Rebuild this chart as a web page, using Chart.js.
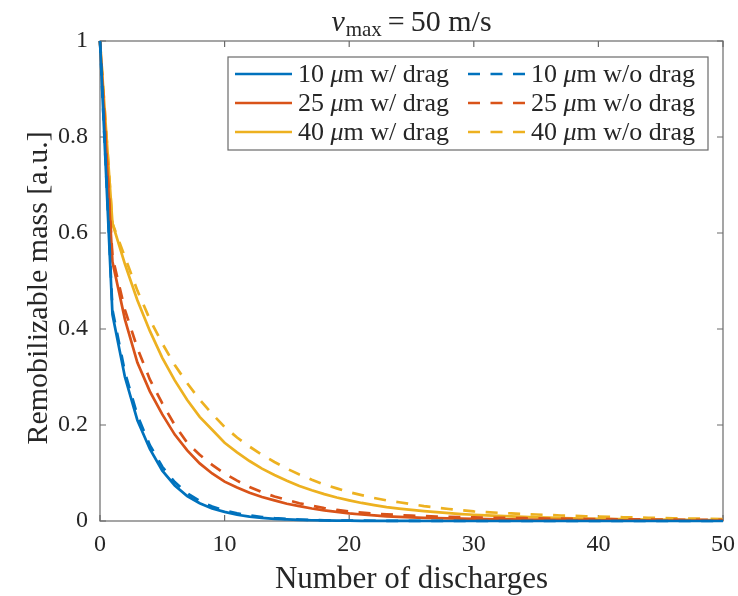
<!DOCTYPE html>
<html>
<head>
<meta charset="utf-8">
<script src="https://cdn.jsdelivr.net/npm/chart.js@4/dist/chart.umd.min.js"></script>
<style>
  html, body { margin: 0; padding: 0; background: #fff; }
  #wrap { width: 738px; height: 596px; }
</style>
</head>
<body>
<div id="wrap"><canvas id="massChart" width="738" height="596"></canvas></div>
<script>
// number of discharges (x) and remaining remobilizable mass for each case
const discharges = [0, 1, 2, 3, 4, 5, 6, 7, 8, 9, 10, 11, 12, 13, 14, 15, 16, 17, 18, 19, 20,
    21, 22, 23, 24, 25, 26, 27, 28, 29, 30, 31, 32, 33, 34, 35, 36, 37, 38, 39, 40,
    41, 42, 43, 44, 45, 46, 47, 48, 49, 50];

const mass10Drag = [1, 0.43, 0.30, 0.21, 0.15, 0.105, 0.074, 0.052, 0.037, 0.026, 0.019,
    0.013, 0.0093, 0.0065, 0.0046, 0.0032, 0.0023, 0.0016, 0.0011, 0.0008, 0.0006,
    0.0004, 0.0003, 0.0002, 0.0001, 0.0001, 0, 0, 0, 0, 0,
    0, 0, 0, 0, 0, 0, 0, 0, 0, 0,
    0, 0, 0, 0, 0, 0, 0, 0, 0, 0];
const mass10NoDrag = [1, 0.44, 0.31, 0.22, 0.158, 0.113, 0.081, 0.058, 0.042, 0.030, 0.022,
    0.016, 0.0115, 0.0083, 0.006, 0.0043, 0.0031, 0.0022, 0.0016, 0.0012, 0.0009,
    0.0006, 0.0005, 0.0003, 0.0002, 0.0002, 0.0001, 0.0001, 0.0001, 0, 0,
    0, 0, 0, 0, 0, 0, 0, 0, 0, 0,
    0, 0, 0, 0, 0, 0, 0, 0, 0, 0];
const mass25Drag = [1, 0.54, 0.42, 0.33, 0.27, 0.222, 0.18, 0.147, 0.12, 0.099, 0.082,
    0.07, 0.059, 0.05, 0.043, 0.036, 0.031, 0.026, 0.022, 0.019, 0.016,
    0.0136, 0.0116, 0.0098, 0.0085, 0.0075, 0.0066, 0.0059, 0.0053, 0.0048, 0.0043,
    0.0039, 0.0035, 0.0032, 0.0029, 0.0026, 0.0024, 0.0022, 0.002, 0.0018, 0.0016,
    0.0015, 0.0013, 0.0012, 0.0011, 0.001, 0.0009, 0.0008, 0.0008, 0.0007, 0.0006];
const mass25NoDrag = [1, 0.55, 0.44, 0.36, 0.295, 0.245, 0.2, 0.163, 0.138, 0.117, 0.099,
    0.084, 0.071, 0.06, 0.051, 0.044, 0.037, 0.032, 0.027, 0.023, 0.02,
    0.0175, 0.0155, 0.0138, 0.0124, 0.0112, 0.0102, 0.0094, 0.0087, 0.0081, 0.0076,
    0.0071, 0.0066, 0.0062, 0.0058, 0.0054, 0.0051, 0.0048, 0.0045, 0.0042, 0.004,
    0.0037, 0.0035, 0.0033, 0.0031, 0.0029, 0.0027, 0.0025, 0.0024, 0.0022, 0.0021];
const mass40Drag = [1, 0.62, 0.535, 0.46, 0.396, 0.34, 0.293, 0.252, 0.217, 0.19, 0.163,
    0.143, 0.125, 0.109, 0.096, 0.084, 0.073, 0.064, 0.056, 0.049, 0.043,
    0.0376, 0.033, 0.0288, 0.0258, 0.023, 0.0205, 0.0183, 0.0163, 0.0145, 0.013,
    0.0117, 0.0105, 0.0095, 0.0085, 0.0077, 0.0069, 0.0062, 0.0056, 0.005, 0.0045,
    0.0041, 0.0037, 0.0033, 0.003, 0.0027, 0.0024, 0.0022, 0.002, 0.0018, 0.0016];
const mass40NoDrag = [1, 0.62, 0.55, 0.48, 0.42, 0.37, 0.325, 0.287, 0.253, 0.223, 0.196,
    0.174, 0.155, 0.138, 0.123, 0.109, 0.097, 0.086, 0.076, 0.068, 0.06,
    0.054, 0.048, 0.043, 0.039, 0.035, 0.031, 0.028, 0.025, 0.0225, 0.02,
    0.0185, 0.0171, 0.0158, 0.0146, 0.0135, 0.0125, 0.0115, 0.0107, 0.0099, 0.0091,
    0.0084, 0.0078, 0.0072, 0.0067, 0.0062, 0.0057, 0.0053, 0.0049, 0.0045, 0.0042];

const xTicks = [0, 10, 20, 30, 40, 50];
const yTicks = [0, 0.2, 0.4, 0.6, 0.8, 1];

// MATLAB default line colours
const BLUE = '#0072BD', ORANGE = '#D95319', YELLOW = '#EDB120';
const AXIS = '#262626';
const SERIF = '"Liberation Serif", "DejaVu Serif", serif';
const DASH = [12, 10.5];

function series(ys) {
    return discharges.map((n, i) => ({ x: n, y: ys[i] }));
}

function makeSet(size, ys, color, drag) {
    return {
        label: size + ' \u03bcm ' + (drag ? 'w/ drag' : 'w/o drag'),
        data: series(ys),
        borderColor: color,
        borderWidth: 2.7,
        borderDash: drag ? [] : DASH,
        pointRadius: 0,
        tension: 0,
        clip: 6
    };
}

// draws a run of text pieces (some italic, some lowered), left to right
function drawRuns(ctx, runs, x, y, size) {
    runs.forEach(r => {
        const s = r.size || size;
        ctx.font = (r.italic ? 'italic ' : '') + s + 'px ' + SERIF;
        ctx.fillText(r.t, x, y + (r.dy || 0));
        x += ctx.measureText(r.t).width + (r.gap || 0);
    });
    return x;
}

function runsWidth(ctx, runs, size) {
    let w = 0;
    runs.forEach(r => {
        ctx.font = (r.italic ? 'italic ' : '') + (r.size || size) + 'px ' + SERIF;
        w += ctx.measureText(r.t).width + (r.gap || 0);
    });
    return w;
}

const framePlugin = {
    id: 'frame',
    beforeDatasetsDraw(chart) {
        const { ctx, chartArea: a, scales: { x, y } } = chart;
        ctx.save();
        ctx.strokeStyle = '#6a6a6a';
        ctx.lineWidth = 1.2;
        ctx.strokeRect(a.left, a.top, a.right - a.left, a.bottom - a.top);
        ctx.beginPath();
        xTicks.forEach(v => {
            const px = x.getPixelForValue(v);
            ctx.moveTo(px, a.bottom); ctx.lineTo(px, a.bottom - 6);
            ctx.moveTo(px, a.top); ctx.lineTo(px, a.top + 6);
        });
        yTicks.forEach(v => {
            const py = y.getPixelForValue(v);
            ctx.moveTo(a.left, py); ctx.lineTo(a.left + 6, py);
            ctx.moveTo(a.right, py); ctx.lineTo(a.right - 6, py);
        });
        ctx.stroke();
        ctx.restore();
    },
    afterDraw(chart) {
        const { ctx, chartArea: a } = chart;
        const cx = (a.left + a.right) / 2;
        ctx.save();
        ctx.fillStyle = AXIS;
        ctx.textBaseline = 'alphabetic';

        // title: v_max = 50 m/s
        const title = [
            { t: 'v', italic: true, gap: 1 },
            { t: 'max', size: 21, dy: 5, gap: 6 },
            { t: '=', gap: 6 },
            { t: '50 m/s' }
        ];
        const tw = runsWidth(ctx, title, 30);
        drawRuns(ctx, title, cx - tw / 2, 31, 30);

        // axis titles
        ctx.font = '31px ' + SERIF;
        ctx.textAlign = 'center';
        ctx.fillText('Number of discharges', cx, 588);
        ctx.font = '30px ' + SERIF;
        ctx.save();
        ctx.translate(47, (a.top + a.bottom) / 2 + 7);
        ctx.rotate(-Math.PI / 2);
        ctx.fillText('Remobilizable mass [a.u.]', 0, 0);
        ctx.restore();
        ctx.textAlign = 'left';

        // legend box, two columns: with drag / without drag
        const box = { l: 228, t: 57, r: 708, b: 150 };
        ctx.fillStyle = '#fff';
        ctx.fillRect(box.l, box.t, box.r - box.l, box.b - box.t);
        ctx.strokeStyle = '#6a6a6a';
        ctx.lineWidth = 1.2;
        ctx.strokeRect(box.l, box.t, box.r - box.l, box.b - box.t);

        const cols = [{ x0: 235, x1: 292, tx: 298 }, { x0: 468, x1: 525, tx: 531 }];
        const rowsY = [74, 103, 132];
        chart.data.datasets.forEach((ds, i) => {
            const col = cols[i % 2], ry = rowsY[Math.floor(i / 2)];
            ctx.beginPath();
            ctx.strokeStyle = ds.borderColor;
            ctx.lineWidth = ds.borderWidth;
            ctx.setLineDash(ds.borderDash);
            ctx.moveTo(col.x0, ry);
            ctx.lineTo(col.x1, ry);
            ctx.stroke();
            ctx.setLineDash([]);
            const parts = ds.label.split('\u03bc');
            ctx.fillStyle = AXIS;
            drawRuns(ctx, [
                { t: parts[0] },
                { t: '\u03bc', italic: true },
                { t: parts[1] }
            ], col.tx, ry + 8, 26);
        });
        ctx.restore();
    }
};

new Chart(document.getElementById('massChart'), {
    type: 'line',
    data: {
        datasets: [
            makeSet(10, mass10Drag, BLUE, true),
            makeSet(10, mass10NoDrag, BLUE, false),
            makeSet(25, mass25Drag, ORANGE, true),
            makeSet(25, mass25NoDrag, ORANGE, false),
            makeSet(40, mass40Drag, YELLOW, true),
            makeSet(40, mass40NoDrag, YELLOW, false)
        ]
    },
    options: {
        responsive: false,
        animation: false,
        layout: { padding: { top: 41, right: 15, left: 0, bottom: 0 } },
        plugins: {
            legend: { display: false },
            title: { display: false },
            tooltip: { enabled: false }
        },
        scales: {
            x: {
                type: 'linear',
                min: 0,
                max: 50,
                afterFit: s => { s.height = 75; s.paddingLeft = 0; s.paddingRight = 0; },
                afterBuildTicks: s => { s.ticks = xTicks.map(v => ({ value: v })); },
                grid: { display: false, drawTicks: false },
                border: { display: false },
                ticks: {
                    padding: 9,
                    color: AXIS,
                    font: { family: SERIF, size: 24 }
                }
            },
            y: {
                type: 'linear',
                min: 0,
                max: 1,
                afterFit: s => { s.width = 100; s.paddingTop = 0; s.paddingBottom = 0; },
                afterBuildTicks: s => { s.ticks = yTicks.map(v => ({ value: v })); },
                grid: { display: false, drawTicks: false },
                border: { display: false },
                ticks: {
                    padding: 12,
                    color: AXIS,
                    font: { family: SERIF, size: 24 },
                    callback: v => String(Number(v.toFixed(1)))
                }
            }
        }
    },
    plugins: [framePlugin]
});
</script>
</body>
</html>
